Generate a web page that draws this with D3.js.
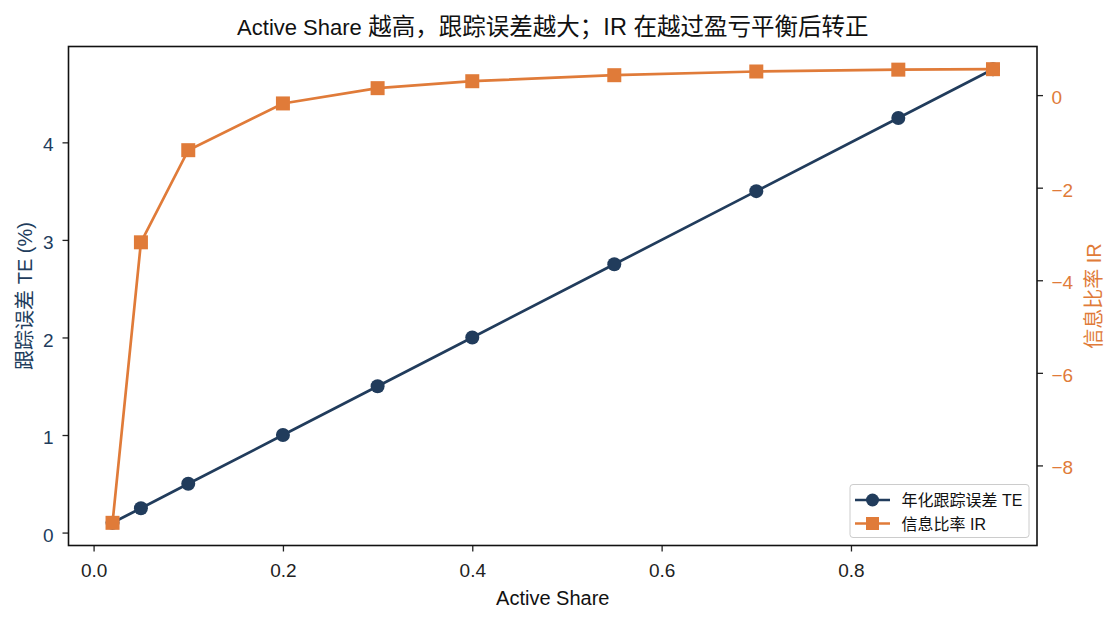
<!DOCTYPE html>
<html><head><meta charset="utf-8">
<script src="https://cdn.jsdelivr.net/npm/d3@7"></script>
<style>
body{margin:0;background:#fff;}
text{font-family:"Liberation Sans","Noto Sans CJK SC",sans-serif;}
</style></head>
<body><svg id="c" width="1117" height="623"></svg>
<script>
const activeShare = [0.02, 0.05, 0.10, 0.20, 0.30, 0.40, 0.55, 0.70, 0.85, 0.95];
const teValues   = [0.10, 0.25, 0.50, 1.00, 1.50, 2.00, 2.75, 3.50, 4.25, 4.75];
const irValues   = [-9.24, -3.18, -1.19, -0.18, 0.15, 0.30, 0.43, 0.51, 0.55, 0.56];
const xTicks  = [0.0, 0.2, 0.4, 0.6, 0.8];
const teTicks = [0, 1, 2, 3, 4];
const irTicks = [-8, -6, -4, -2, 0];
const titleA = "Active Share";
const titleB = " 越高，跟踪误差越大；IR 在越过盈亏平衡后转正";
const xLabel = "Active Share";
const teLabel = "跟踪误差 TE (%)";
const irLabel = "信息比率 IR";
const teName = "年化跟踪误差 TE";
const irName = "信息比率 IR";

const navy = "#213c5c", orange = "#e07b39";
const svg = d3.select("#c");
const L = 68.5, R = 1037, T = 46.5, B = 545.5;

function pad(ext){const s=ext[1]-ext[0];return [ext[0]-0.05*s, ext[1]+0.05*s];}
const x = d3.scaleLinear().domain(pad(d3.extent(activeShare))).range([L,R]);
const yL = d3.scaleLinear().domain(pad(d3.extent(teValues))).range([B,T]);
const yR = d3.scaleLinear().domain(pad(d3.extent(irValues))).range([B,T]);

const fmt1 = d3.format(".1f");
const minus = v => (v<0 ? "\u2212"+Math.abs(v) : ""+v);

const gx = svg.append("g").attr("transform",`translate(0,${B})`)
  .call(d3.axisBottom(x).tickValues(xTicks).tickFormat(fmt1).tickSize(6).tickPadding(12.5));
gx.select(".domain").remove();
gx.selectAll("line").attr("stroke","#222").attr("stroke-width",1.3);
gx.selectAll("text").attr("font-size",19).attr("fill","#222").attr("font-family","Liberation Sans");

const gl = svg.append("g").attr("transform",`translate(${L},0)`)
  .call(d3.axisLeft(yL).tickValues(teTicks).tickFormat(d=>d).tickSize(6).tickPadding(9));
gl.select(".domain").remove();
gl.selectAll("line").attr("stroke","#222").attr("stroke-width",1.3);
gl.selectAll("text").attr("font-size",19).attr("fill",navy).attr("dy","0.45em").attr("font-family","Liberation Sans");

const gr = svg.append("g").attr("transform",`translate(${R},0)`)
  .call(d3.axisRight(yR).tickValues(irTicks).tickFormat(minus).tickSize(6).tickPadding(8.5));
gr.select(".domain").remove();
gr.selectAll("line").attr("stroke","#222").attr("stroke-width",1.3);
gr.selectAll("text").attr("font-size",19).attr("fill",orange).attr("dy","0.45em").attr("font-family","Liberation Sans");

// frame
svg.append("rect").attr("x",L).attr("y",T).attr("width",R-L).attr("height",B-T)
  .attr("fill","none").attr("stroke","#111").attr("stroke-width",1.6);

const pts = activeShare.map((a,i)=>({a, te:teValues[i], ir:irValues[i]}));
// TE line
svg.append("path").datum(pts).attr("fill","none").attr("stroke",navy).attr("stroke-width",2.7)
  .attr("d", d3.line().x(d=>x(d.a)).y(d=>yL(d.te)));
svg.selectAll("circle.te").data(pts).enter().append("circle")
  .attr("cx",d=>x(d.a)).attr("cy",d=>yL(d.te)).attr("r",7).attr("fill",navy);

// IR line
svg.append("path").datum(pts).attr("fill","none").attr("stroke",orange).attr("stroke-width",2.7)
  .attr("d", d3.line().x(d=>x(d.a)).y(d=>yR(d.ir)));
const sq = 14;
svg.selectAll("rect.ir").data(pts).enter().append("rect")
  .attr("x",d=>x(d.a)-sq/2).attr("y",d=>yR(d.ir)-sq/2).attr("width",sq).attr("height",sq).attr("fill",orange);

// titles
const tt = svg.append("text").attr("x",(L+R)/2).attr("y",35).attr("text-anchor","middle")
  .attr("fill","#111").attr("xml:space","preserve");
tt.append("tspan").attr("font-size",22).text(titleA);
tt.append("tspan").attr("font-size",23.5).text(titleB);

svg.append("text").attr("x",(L+R)/2).attr("y",605).attr("text-anchor","middle")
  .attr("font-size",20).attr("fill","#111").text(xLabel);
svg.append("text").attr("transform",`translate(32,${(T+B)/2}) rotate(-90)`).attr("text-anchor","middle")
  .attr("font-size",20).attr("fill",navy).text(teLabel);
svg.append("text").attr("transform",`translate(1101,${(T+B)/2}) rotate(-90)`).attr("text-anchor","middle")
  .attr("font-size",20).attr("fill",orange).text(irLabel);

// legend
const lg = svg.append("g");
lg.append("rect").attr("x",850).attr("y",484.5).attr("width",179).attr("height",53).attr("rx",3)
  .attr("fill","#fff").attr("fill-opacity",0.8).attr("stroke","#ccc").attr("stroke-width",1);
const items = [{name:teName,color:navy,shape:"c"},{name:irName,color:orange,shape:"s"}];
items.forEach((it,i)=>{
  const yy = 500 + i*23.5;
  lg.append("line").attr("x1",855).attr("x2",890).attr("y1",yy).attr("y2",yy)
    .attr("stroke",it.color).attr("stroke-width",2.7);
  if(it.shape==="c") lg.append("circle").attr("cx",872.5).attr("cy",yy).attr("r",6.5).attr("fill",it.color);
  else lg.append("rect").attr("x",872.5-6.5).attr("y",yy-6.5).attr("width",13).attr("height",13).attr("fill",it.color);
  lg.append("text").attr("x",901.5).attr("y",yy+6).attr("font-size",16).attr("fill","#111").text(it.name);
});
</script></body></html>
